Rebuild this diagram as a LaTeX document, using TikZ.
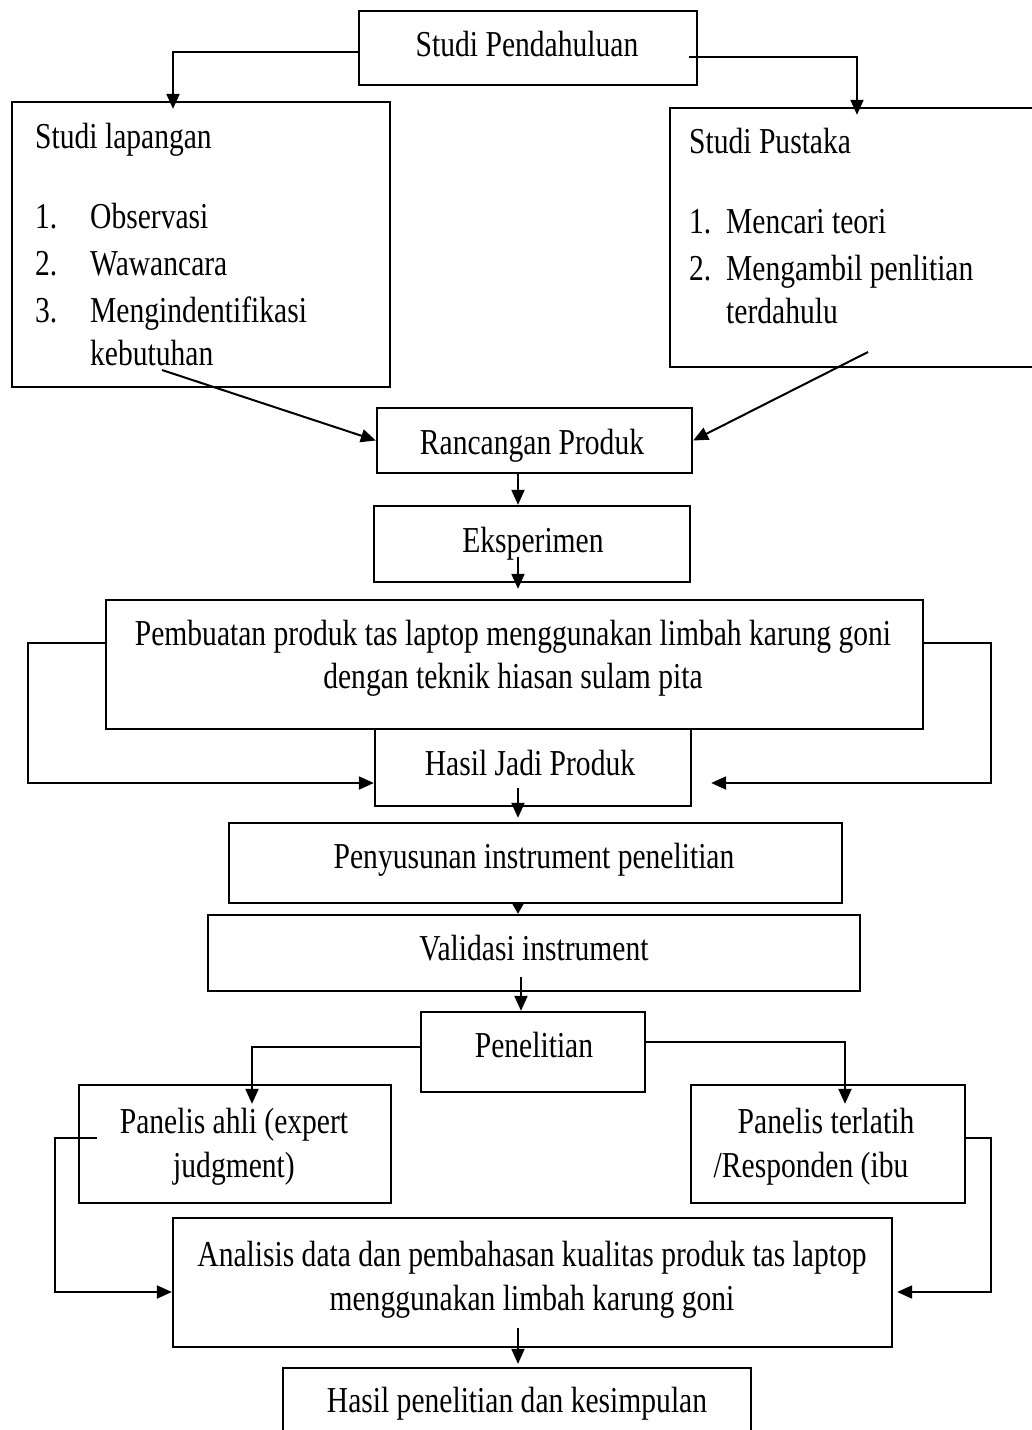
\documentclass[tikz,border=0pt]{standalone}
\usepackage{fontspec}
\setmainfont{Liberation Serif}[FakeStretch=0.81]
\usetikzlibrary{arrows.meta,calc}
\begin{document}
\begin{tikzpicture}[x=1pt,y=-1pt,
  box/.style={draw, line width=2.3pt, inner sep=0pt, rectangle},
  txt/.style={inner sep=0pt, anchor=base, font=\fontsize{36.5}{47}\selectfont},
  con/.style={line width=2pt},
  arr/.style={con, -{Triangle[length=15pt,width=13pt]}}]
\useasboundingbox (0,0) rectangle (1031,1430);
\fill[white] (0,0) rectangle (1031,1430);

% boxes
\node[box, minimum width=338pt, minimum height=74pt]  (pend) at (528,48) {};
\node[box, minimum width=378pt, minimum height=285pt] (lap) at (201,244.5) {};
\node[box, minimum width=363pt, minimum height=259pt] (pus) at (851.5,237.5) {};
\node[box, minimum width=315pt, minimum height=65pt]  (ranc) at (534.5,440.5) {};
\node[box, minimum width=316pt, minimum height=76pt]  (eks) at (532,544) {};
\node[box, minimum width=817pt, minimum height=129pt] (pemb) at (514.5,664.5) {};
\node[box, minimum width=316pt, minimum height=77pt]  (hasil) at (533,767.5) {};
\node[box, minimum width=613pt, minimum height=80pt]  (pen) at (535.5,863) {};
\node[box, minimum width=652pt, minimum height=76pt]  (val) at (534,953) {};
\node[box, minimum width=224pt, minimum height=80pt]  (peneliti) at (533,1052) {};
\node[box, minimum width=312pt, minimum height=118pt] (ahli) at (235,1144) {};
\node[box, minimum width=274pt, minimum height=118pt] (terl) at (828,1144) {};
\node[box, minimum width=719pt, minimum height=129pt] (anal) at (532.5,1282.5) {};
\node[box, minimum width=468pt, minimum height=72pt]  (hp) at (517,1404) {};

% texts (multi-line nodes are placed by the baseline of their last line)
\node[txt] (t-pend) at (527,56) {Studi Pendahuluan};
\node[txt, anchor=base west, align=left] (t-lap) at (35,365)
  {Studi lapangan\\[33pt]
   \makebox[55pt][l]{1.}Observasi\\
   \makebox[55pt][l]{2.}Wawancara\\
   \makebox[55pt][l]{3.}Mengindentifikasi\\[-4pt]
   \hspace*{55pt}kebutuhan};
\node[txt, anchor=base west, align=left] (t-pus) at (689,323)
  {Studi Pustaka\\[33pt]
   \makebox[37pt][l]{1.}Mencari teori\\
   \makebox[37pt][l]{2.}Mengambil penlitian\\[-4pt]
   \hspace*{37pt}terdahulu};
\node[txt] (t-ranc) at (532,454) {Rancangan Produk};
\node[txt] (t-eks) at (533,552) {Eksperimen};
\node[txt, align=center] (t-pemb) at (513,688)
  {Pembuatan produk tas laptop menggunakan limbah karung goni\\[-4pt]
   dengan teknik hiasan sulam pita};
\node[txt] (t-hasil) at (530,775) {Hasil Jadi Produk};
\node[txt] (t-pen) at (534,868) {Penyusunan instrument penelitian};
\node[txt] (t-val) at (534,960) {Validasi instrument};
\node[txt] (t-peneliti) at (534,1057) {Penelitian};
\node[txt, align=center] (t-ahli) at (234,1177) {Panelis ahli (expert\\[-3pt] judgment)};
\node[txt, align=center] (t-terl) at (826,1177) {Panelis terlatih\\[-3pt] /Responden (ibu\hspace*{30pt}};
\node[txt, align=center] (t-anal) at (532,1310)
  {Analisis data dan pembahasan kualitas produk tas laptop\\[-3pt]
   menggunakan limbah karung goni};
\node[txt] (t-hp) at (517,1412) {Hasil penelitian dan kesimpulan};

% helper coordinates
\coordinate (spine) at (518,0);
\coordinate (lapout) at (162,370);
\coordinate (pusout) at (868,352);
\coordinate (L1) at (28,643);
\coordinate (L2) at (28,783);
\coordinate (R1) at (991,643);
\coordinate (R2) at (991,783);
\coordinate (P1) at (252,1047);
\coordinate (P2) at (845,1042);
\coordinate (A0) at (97,1138);
\coordinate (A1) at (55,1138);
\coordinate (A2) at (55,1292);
\coordinate (T1) at (991,1138);
\coordinate (T2) at (991,1292);

% connectors
\draw[arr] ($(pend.west)+(0,4)$) -| ($(lap.north)+(-28,8)$);
\draw[arr] ($(pend.east)+(-9,9)$) -| ($(pus.north)+(5.5,8)$);
\draw[arr] (lapout) -- (ranc.west);
\draw[arr] (pusout) -- (ranc.east);
\draw[arr] (ranc.south -| spine) -- (eks.north -| spine);
\draw[arr] ($(eks.center -| spine)+(0,13)$) -- ($(pemb.north -| spine)+(0,-10)$);
\draw[arr] (pemb.west |- L1) -- (L1) -- (L2) -- (L2 -| hasil.west);
\draw[arr] (pemb.east |- R1) -- (R1) -- (R2) -- ($(R2 -| hasil.east)+(19,0)$);
\draw[arr] ($(hasil.center -| spine)+(0,20)$) -- ($(pen.north -| spine)+(0,-4)$);
\draw[con, -{Triangle[length=11pt,width=12pt]}] (pen.south -| spine) -- (val.north -| spine);
\draw[arr] ($(val.center -| spine)+(3,24)$) -- ($(peneliti.north -| spine)+(3,0)$);
\draw[arr] (peneliti.west |- P1) -| ($(ahli.north -| P1)+(0,20)$);
\draw[arr] (peneliti.east |- P2) -| ($(terl.north -| P2)+(0,20)$);
\draw[arr] (A0) -- (A1) -- (A2) -- (A2 -| anal.west);
\draw[arr] (terl.east |- T1) -- (T1) -- (T2) -- ($(T2 -| anal.east)+(4,0)$);
\draw[arr] ($(anal.south -| spine)+(0,-20)$) -- ($(hp.north -| spine)+(0,-3)$);
\end{tikzpicture}
\end{document}
